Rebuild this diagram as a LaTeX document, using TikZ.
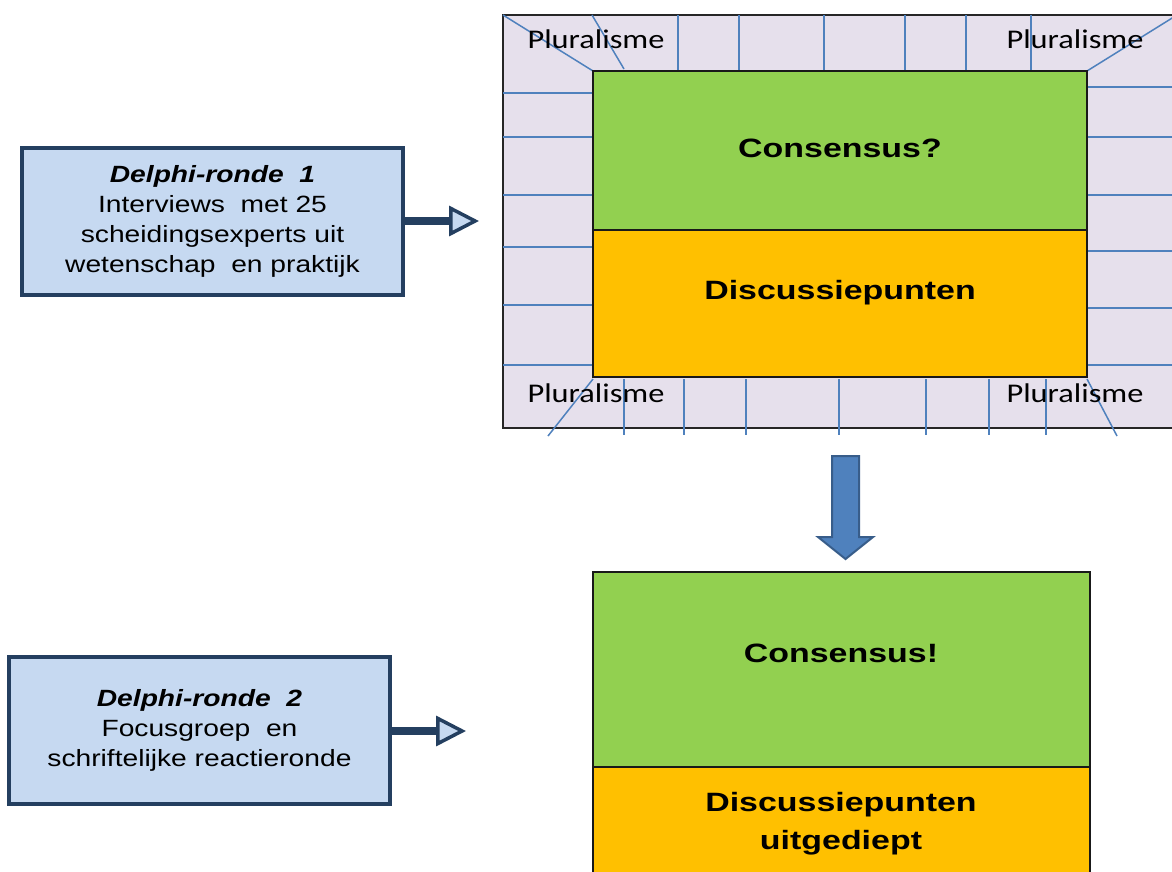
\documentclass[tikz,border=0pt]{standalone}
\usepackage{fontspec}
\setmainfont{Liberation Sans}
\newfontfamily\delphifont[FakeStretch=1.2]{Liberation Sans}
\newfontfamily\widebold[FakeStretch=1.28]{Liberation Sans}
\newfontfamily\plurfont[FakeStretch=1.2]{Carlito}
\usetikzlibrary{arrows.meta}
\definecolor{lavender}{HTML}{E6E0EC}
\definecolor{gridblue}{HTML}{4F81BD}
\definecolor{gridblueD}{HTML}{385D8A}
\definecolor{consgreen}{HTML}{92D050}
\definecolor{discorange}{HTML}{FFC000}
\definecolor{boxfill}{HTML}{C6D9F1}
\definecolor{boxnavy}{HTML}{243F60}
\tikzset{
  outerbox/.style={draw=black!85, line width=1.6, fill=lavender},
  bline/.style={draw=gridblue, line width=1.5},
  colorbox/.style={draw=black!90, line width=1.6},
  delphibox/.style={draw=boxnavy, fill=boxfill, line width=4, rectangle, inner sep=0pt,
     align=center, font=\delphifont\fontsize{23.5}{30}\selectfont},
  bigtext/.style={font=\widebold\bfseries\fontsize{26.5}{38}\selectfont, align=center, inner sep=0pt},
  plurtext/.style={font=\plurfont\fontsize{27}{30}\selectfont, inner sep=0pt},
  conn/.style={draw=boxnavy, line width=8,
     -{Triangle[length=30pt,width=30pt,fill=boxfill,line width=3.5pt]}},
  downarrow/.style={fill=gridblue, draw=gridblueD, line width=2, line join=miter}
}
\begin{document}
\begin{tikzpicture}[x=1pt,y=-1pt]
\useasboundingbox (0,0) rectangle (1172,871);
\fill[white] (0,0) rectangle (1172,871);
\begin{scope}
\clip (0,0) rectangle (1172,871);
% outer pluralism field
\draw[outerbox] (503,15) rectangle (1182,428);
% grid lines
\draw[bline] (503,15) -- (593,71);
\draw[bline] (592,15) -- (624,69);
\foreach \x in {678,739,824,905,966,1031} \draw[bline] (\x,15) -- (\x,71);
\draw[bline] (1087,71) -- (1177,15);
\foreach \y in {93,137,195,247,305,365} \draw[bline] (503,\y) -- (593,\y);
\foreach \y in {87,137,195,251,308,365} \draw[bline] (1087,\y) -- (1182,\y);
\foreach \x in {624,684,746,839,926,989,1046} \draw[bline] (\x,379) -- (\x,435);
\draw[bline] (593,379) -- (548,436);
\draw[bline] (1087,379) -- (1117,436);
% top boxes
\draw[colorbox, fill=consgreen] (593,71) rectangle (1087,230);
\draw[colorbox, fill=discorange] (593,230) rectangle (1087,377);
\node[bigtext] (cons1) at (840,148) {Consensus?};
\node[bigtext] (disc1) at (840,293) {Discussiepunten};
% pluralisme labels
\node[plurtext] (pl1) at (596,39) {Pluralisme};
\node[plurtext] (pl2) at (1075,39) {Pluralisme};
\node[plurtext] (pl3) at (596,393) {Pluralisme};
\node[plurtext] (pl4) at (1075,393) {Pluralisme};
% bottom boxes
\draw[colorbox, fill=consgreen] (593,572) rectangle (1090,767);
\draw[colorbox, fill=discorange] (593,767) rectangle (1090,880);
\node[bigtext] (cons2) at (841,653) {Consensus!};
\node[bigtext] (disc2) at (841,824) {Discussiepunten\\uitgediept};
% down arrow
\draw[downarrow] (832,456) -- (859,456) -- (859,537) -- (873,537) -- (845.5,559)
   -- (818,537) -- (832,537) -- cycle;
% Delphi boxes
\node[delphibox, minimum width=381, minimum height=147] (d1) at (212.5,221.5)
  {{\bfseries\itshape Delphi-ronde\ \ 1}\\Interviews\ \ met 25\\scheidingsexperts uit\\wetenschap\ \ en praktijk};
\node[delphibox, minimum width=381, minimum height=147] (d2) at (199.5,730.5)
  {{\bfseries\itshape Delphi-ronde\ \ 2}\\Focusgroep\ \ en\\schriftelijke reactieronde};
\coordinate (t1) at (479,221);
\coordinate (t2) at (466,731);
\draw[conn] (d1.east |- t1) -- (t1);
\draw[conn] (d2.east |- t2) -- (t2);
\end{scope}
\end{tikzpicture}
\end{document}
